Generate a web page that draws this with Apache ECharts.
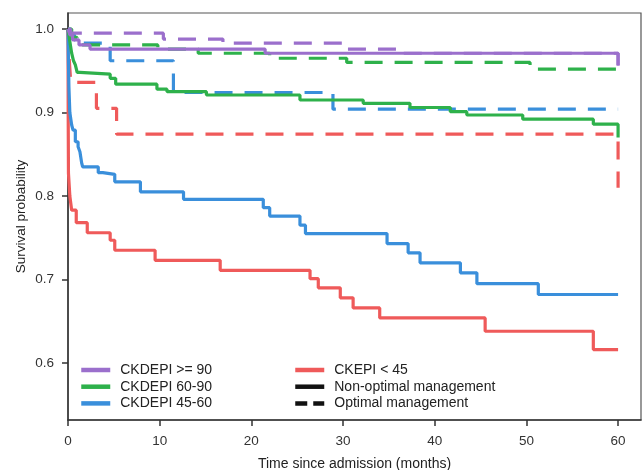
<!DOCTYPE html>
<html lang="en">
<head>
    <meta charset="UTF-8">
    <title>Survival by CKDEPI group</title>
    <script src="https://cdn.jsdelivr.net/npm/echarts@6/dist/echarts.min.js"></script>
    <style>
        html, body { margin: 0; padding: 0; background: #fff; }
        #chart { width: 642px; height: 470px; }
    </style>
</head>
<body>
<div id="chart"></div>
<script>

  // [months, survival] - value holds until next point (step: 'end')
  var ckd90Non = [[0, 1], [0.2, 0.993], [0.5, 0.987], [1.2, 0.981], [2.4, 0.976], [21.5, 0.971], [60, 0.957]];
  var ckd90Opt = [[0, 1], [0.3, 0.995], [10.4, 0.988], [16.9, 0.983], [29.9, 0.976], [36.2, 0.971], [60, 0.956]];

  var ckd60Non = [[0, 1], [0.2, 0.985], [0.4, 0.971], [0.6, 0.962], [0.8, 0.957], [1.0, 0.948], [1.3, 0.946],
    [4.6, 0.941], [5.2, 0.934], [9.7, 0.928], [10.8, 0.925], [15.1, 0.921], [25.3, 0.915], [32.2, 0.911],
    [37.3, 0.906], [41.7, 0.901], [43.5, 0.897], [49.6, 0.892], [57.3, 0.886], [60, 0.87]];
  var ckd60Opt = [[0, 1], [0.4, 0.99], [1.0, 0.981], [9.8, 0.976], [14.2, 0.971], [22, 0.965], [30.4, 0.96],
    [50.4, 0.952], [60, 0.952]];

  var ckd45Non = [[0, 1], [0.05, 0.96], [0.1, 0.93], [0.2, 0.9], [0.4, 0.885], [0.55, 0.879], [0.8, 0.865],
    [1.1, 0.859], [1.3, 0.853], [1.5, 0.839], [1.6, 0.835], [3.3, 0.828], [3.8, 0.826], [5.1, 0.817],
    [7.9, 0.805], [12.6, 0.796], [21.3, 0.786], [22, 0.776], [25.3, 0.765], [25.9, 0.755], [34.8, 0.743],
    [37.1, 0.732], [38.4, 0.72], [42.8, 0.708], [44.6, 0.695], [51.3, 0.682], [60, 0.682]];
  var ckd45Opt = [[0, 1], [0.3, 0.993], [0.7, 0.987], [1.1, 0.983], [4.6, 0.962], [11.5, 0.924], [28.9, 0.904],
    [60, 0.904]];

  var ckdLowNon = [[0, 1], [0.02, 0.9], [0.05, 0.827], [0.2, 0.8], [0.4, 0.783], [0.9, 0.768], [2.1, 0.756],
    [4.6, 0.747], [5.1, 0.735], [9.5, 0.723], [16.6, 0.711], [26.4, 0.701], [27.3, 0.69], [29.7, 0.678],
    [31.1, 0.666], [34.0, 0.654], [45.5, 0.638], [57.3, 0.616], [60, 0.616]];
  var ckdLowOpt = [[0, 1], [0.1, 0.97], [0.3, 0.936], [3.1, 0.905], [5.3, 0.874], [60, 0.81]];

  var groupNames = ['CKDEPI >= 90', 'CKDEPI 60-90', 'CKDEPI 45-60', 'CKEPI < 45'];
  var groupColors = ['#9b6fcc', '#2eb14b', '#3a8fdb', '#ef5a5a'];
  var xTicks = [0, 10, 20, 30, 40, 50, 60];
  var yTicks = [0.6, 0.7, 0.8, 0.9, 1.0];

  var FONT = 'Liberation Sans, Arial, sans-serif';
  var DASH = [18, 12];

  function curve(name, color, data, dashed) {
    return {
      name     : name,
      type     : 'line',
      step     : 'end',
      symbol   : 'none',
      silent   : true,
      animation: false,
      data     : data,
      itemStyle: { color: color },
      lineStyle: { color: color, width: 3.2, type: dashed ? DASH : 'solid', cap: 'butt' }
    };
  }

  var series = [
    curve(groupNames[3], groupColors[3], ckdLowNon, false),
    curve(groupNames[3] + ' opt', groupColors[3], ckdLowOpt, true),
    curve(groupNames[2], groupColors[2], ckd45Non, false),
    curve(groupNames[2] + ' opt', groupColors[2], ckd45Opt, true),
    curve(groupNames[1], groupColors[1], ckd60Non, false),
    curve(groupNames[1] + ' opt', groupColors[1], ckd60Opt, true),
    curve(groupNames[0], groupColors[0], ckd90Non, false),
    curve(groupNames[0] + ' opt', groupColors[0], ckd90Opt, true),
    // legend-only entries for line type
    curve('Non-optimal management', '#111', [], false),
    { name: 'Optimal management', type: 'line', symbol: 'none', data: [],
      itemStyle: { color: '#111' }, lineStyle: { color: '#111', width: 3, type: [12, 6] } }
  ];

  var legendBase = {
    orient    : 'vertical',
    top       : 363,
    padding   : 0,
    itemWidth : 29,
    itemHeight: 14,
    itemGap   : 2.7,
    selectedMode: false,
    // hide the marker circle, keep only the line
    itemStyle : { color: 'rgba(0,0,0,0)', borderColor: 'rgba(0,0,0,0)', borderWidth: 0 },
    lineStyle : { width: 4.5 },
    textStyle : { fontFamily: FONT, fontSize: 14, color: '#222', lineHeight: 14, padding: [0, 0, 0, 5] }
  };

  var myChart = echarts.init(document.getElementById('chart'), null, { renderer: 'canvas' });

  myChart.setOption({
    backgroundColor: '#fff',
    animation: false,
    grid: {
      left: 68, right: 1, top: 13, bottom: 50,
      outerBoundsMode: 'none',
      containLabel: false,
      show: true, borderColor: '#555', borderWidth: 1.2
    },
    legend: [
      Object.assign({}, legendBase, { left: 79, data: groupNames.slice(0, 3) }),
      Object.assign({}, legendBase, { left: 293, data: [groupNames[3], 'Non-optimal management', 'Optimal management'] })
    ],
    xAxis: {
      type        : 'value',
      min         : 0,
      max         : 62.5,
      name        : 'Time since admission (months)',
      nameLocation: 'middle',
      nameGap     : 37,
      nameMoveOverlap: false,
      nameTextStyle: { fontFamily: FONT, fontSize: 14, color: '#222' },
      splitLine   : { show: false },
      axisLine    : { show: true, onZero: false, lineStyle: { color: '#333', width: 1.5 } },
      axisTick    : { show: true, inside: false, length: 6, customValues: xTicks, lineStyle: { color: '#333', width: 1.5 } },
      axisLabel   : { customValues: xTicks, margin: 14, fontFamily: FONT, fontSize: 13.5, color: '#333' }
    },
    yAxis: {
      type        : 'value',
      min         : 0.5317,
      max         : 1.0192,
      name        : 'Survival probability',
      nameLocation: 'middle',
      nameRotate  : 90,
      nameGap     : 40,
      nameMoveOverlap: false,
      nameTextStyle: { fontFamily: FONT, fontSize: 13.5, color: '#222' },
      splitLine   : { show: false },
      axisLine    : { show: true, onZero: false, lineStyle: { color: '#333', width: 1.5 } },
      axisTick    : { show: true, inside: false, length: 6, customValues: yTicks, lineStyle: { color: '#333', width: 1.5 } },
      axisLabel   : {
        customValues: yTicks, margin: 14, fontFamily: FONT, fontSize: 13.5, color: '#333',
        formatter: function (v) { return v.toFixed(1); }
      }
    },
    series: series
  });
</script>
</body>
</html>
